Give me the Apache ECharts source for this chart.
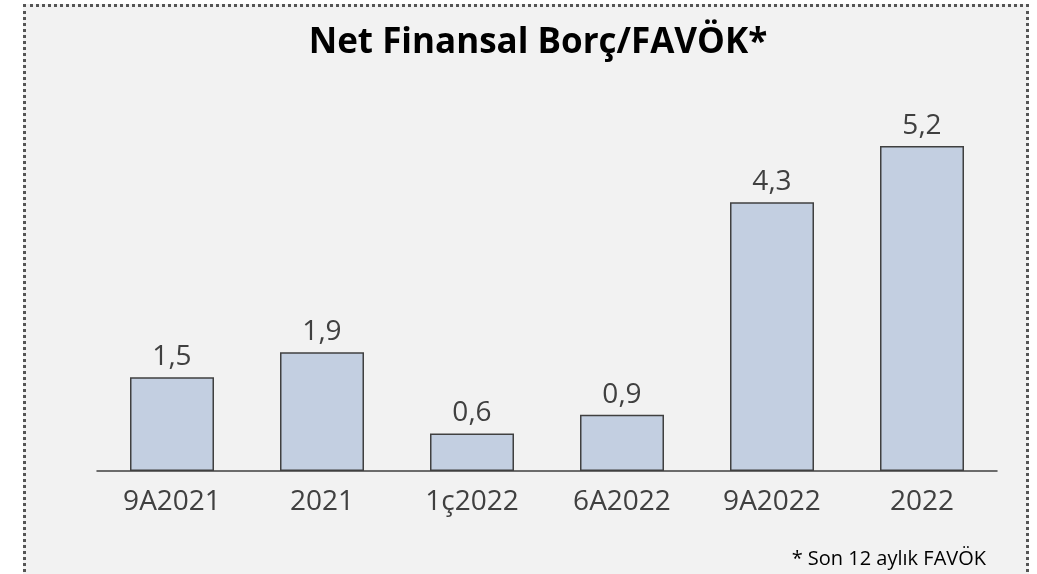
<!DOCTYPE html>
<html>
<head>
<meta charset="utf-8">
<script src="https://cdn.jsdelivr.net/npm/echarts@6/dist/echarts.min.js"></script>
<style>
    html, body {margin: 0; padding: 0; background: #ffffff;}
    #wrap {position: absolute; left: 23px; top: 4px; width: 1006px; height: 580px;
           border: 3px dotted #555555; background: #f2f2f2; box-sizing: border-box;}
    #MyChart {position: absolute; left: 0; top: 0; width: 1037px; height: 574px;}
</style>
</head>
<body>
<div id="wrap"></div>
<div id="MyChart"></div>
<script>
// 数据
var Periods = ['9A2021', '2021', '1ç2022', '6A2022', '9A2022', '2022']
var Ratio = [1.5, 1.9, 0.6, 0.9, 4.3, 5.2]

var chartDom = document.getElementById('MyChart');
var myChart = echarts.init(chartDom);
var option;

option = {
    animation: false,
    title: [
        {
            text: 'Net Finansal Borç/FAVÖK*',
            left: 533,
            textAlign: 'center',
            top: 21,
            textStyle: {
                color: '#000000',
                fontWeight: 'bold',
                fontFamily: 'Open Sans',
                fontSize: 35
            }
        },
        {
            text: '* Son 12 aylık FAVÖK',
            right: 46,
            top: 544,
            textStyle: {
                color: '#000000',
                fontWeight: 'normal',
                fontFamily: 'Open Sans',
                fontSize: 20
            }
        }
    ],
    grid: {
        left: 97,
        right: 40,
        top: 96,
        bottom: 103
    },
    xAxis: {
        type: 'category',
        data: Periods,
        axisTick: {show: false},
        axisLine: {
            lineStyle: {
                color: '#404040',
                width: 1.5
            }
        },
        axisLabel: {
            color: '#404040',
            fontFamily: 'Open Sans',
            fontSize: 28,
            margin: 17
        }
    },
    yAxis: {
        type: 'value',
        min: 0,
        max: 6,
        show: false,
        splitLine: {show: false}
    },
    series: [
        {
            type: 'bar',
            data: Ratio,
            barWidth: '56%',
            itemStyle: {
                color: '#c3cfe1',
                borderColor: '#404040',
                borderWidth: 1.5
            },
            label: {
                show: true,
                position: 'top',
                distance: 6,
                color: '#404040',
                fontFamily: 'Open Sans',
                fontSize: 28,
                formatter: function (p) {
                    return p.value.toFixed(1).replace('.', ',')
                }
            }
        }
    ]
};
option && myChart.setOption(option);
</script>
</body>
</html>
